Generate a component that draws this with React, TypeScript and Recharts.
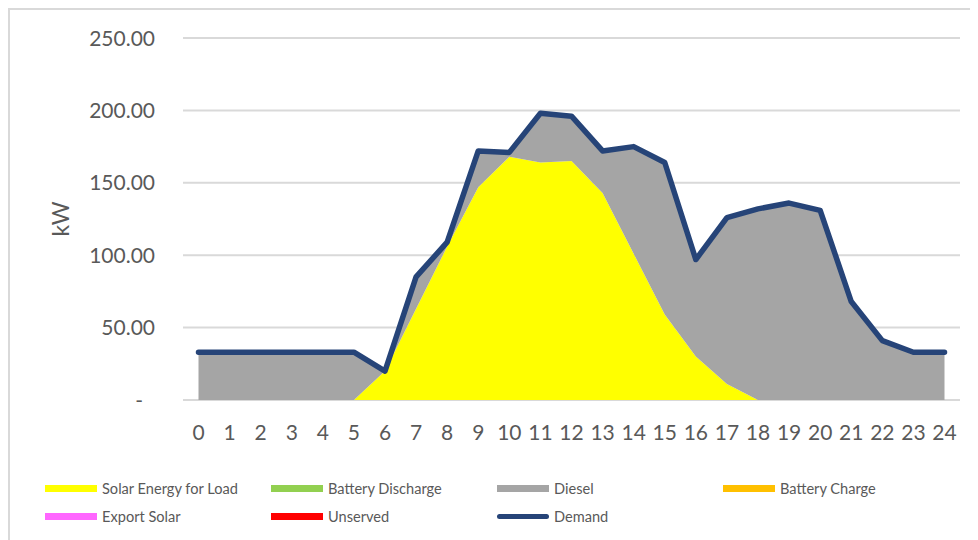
import React from "react";
import {
  ComposedChart,
  Area,
  Line,
  XAxis,
  YAxis,
  CartesianGrid,
  Legend,
} from "recharts";

const hours = [0, 1, 2, 3, 4, 5, 6, 7, 8, 9, 10, 11, 12, 13, 14, 15, 16, 17, 18, 19, 20, 21, 22, 23, 24];
const solarForLoad = [0, 0, 0, 0, 0, 0, 20, 63, 106, 147, 168, 164, 165, 143, 101, 59, 30, 11, 0, 0, 0, 0, 0, 0, 0];
const batteryDischarge = [0, 0, 0, 0, 0, 0, 0, 0, 0, 0, 0, 0, 0, 0, 0, 0, 0, 0, 0, 0, 0, 0, 0, 0, 0];
const diesel = [33, 33, 33, 33, 33, 33, 0, 22, 3, 25, 3, 34, 31, 29, 73, 105, 66, 115, 132, 136, 131, 68, 41, 33, 33];
const batteryCharge = [0, 0, 0, 0, 0, 0, 0, 0, 0, 0, 0, 0, 0, 0, 0, 0, 0, 0, 0, 0, 0, 0, 0, 0, 0];
const exportSolar = [0, 0, 0, 0, 0, 0, 0, 0, 0, 0, 0, 0, 0, 0, 0, 0, 0, 0, 0, 0, 0, 0, 0, 0, 0];
const unserved = [0, 0, 0, 0, 0, 0, 0, 0, 0, 0, 0, 0, 0, 0, 0, 0, 0, 0, 0, 0, 0, 0, 0, 0, 0];
const demand = [33, 33, 33, 33, 33, 33, 20, 85, 109, 172, 171, 198, 196, 172, 175, 164, 97, 126, 132, 136, 131, 68, 41, 33, 33];
const yTicks = [0, 50, 100, 150, 200, 250];

const legendItems = [
  { name: "Solar Energy for Load", color: "#FFFF00", line: false },
  { name: "Battery Discharge", color: "#92D050", line: false },
  { name: "Diesel", color: "#A5A5A5", line: false },
  { name: "Battery Charge", color: "#FFC000", line: false },
  { name: "Export Solar", color: "#FF66FF", line: false },
  { name: "Unserved", color: "#FF0000", line: false },
  { name: "Demand", color: "#264478", line: true },
];

const data = hours.map((h, i) => ({
  hour: h,
  solar: solarForLoad[i],
  discharge: batteryDischarge[i],
  diesel: diesel[i],
  charge: batteryCharge[i],
  exportSolar: exportSolar[i],
  unserved: unserved[i],
  demand: demand[i],
}));

const font = "Lato, 'Open Sans', sans-serif";
const textColor = "#595959";

const YTick = (props: any) => {
  const { x, y, payload } = props;
  const v = payload.value;
  return (
    <text
      x={v === 0 ? x - 12 : x}
      y={y}
      dy="0.36em"
      textAnchor="end"
      fill={textColor}
      fontSize={21}
      fontFamily={font}
    >
      {v === 0 ? "-" : v.toFixed(2)}
    </text>
  );
};

const renderLegend = () => (
  <div
    style={{
      height: 72,
      paddingTop: 16,
      paddingLeft: 35,
      boxSizing: "border-box",
      display: "flex",
      flexWrap: "wrap",
      fontFamily: font,
      fontSize: 14.6,
      color: textColor,
    }}
  >
    {legendItems.map((item) => (
      <div
        key={item.name}
        style={{ width: 226, height: 28, display: "flex", alignItems: "center" }}
      >
        <span
          style={{
            display: "inline-block",
            width: 52,
            height: item.line ? 5 : 7,
            borderRadius: item.line ? 3 : 0,
            background: item.color,
            marginRight: 5,
          }}
        />
        <span>{item.name}</span>
      </div>
    ))}
  </div>
);

export default function App() {
  return (
    <div
      style={{
        width: 970,
        height: 532,
        borderTop: "2px solid #D9D9D9",
        borderLeft: "2px solid #D9D9D9",
        boxSizing: "border-box",
        background: "#fff",
      }}
    >
      <ComposedChart
        width={968}
        height={530}
        data={data}
        margin={{ top: 28, right: 18, left: 0, bottom: 10 }}
      >
        <CartesianGrid vertical={false} stroke="#D9D9D9" strokeWidth={2} />
        <XAxis
          dataKey="hour"
          padding={{ left: 15.5, right: 15.5 }}
          axisLine={false}
          tickLine={false}
          tickSize={0}
          tickMargin={25}
          height={58}
          interval={0}
          tick={{ fill: textColor, fontSize: 21, fontFamily: font }}
        />
        <YAxis
          width={173}
          domain={[0, 250]}
          ticks={yTicks}
          axisLine={false}
          tickLine={false}
          tickSize={0}
          tickMargin={28}
          tick={<YTick />}
          label={{
            content: () => (
              <text
                x={50}
                y={209}
                transform="rotate(-90 50 209)"
                textAnchor="middle"
                dominantBaseline="central"
                fill={textColor}
                fontSize={23}
                fontFamily={font}
              >
                kW
              </text>
            ),
          }}
        />
        <Legend verticalAlign="bottom" content={renderLegend} />
        <Area
          type="linear"
          dataKey="solar"
          name="Solar Energy for Load"
          stackId="a"
          fill="#FFFF00"
          fillOpacity={1}
          stroke="none"
          isAnimationActive={false}
        />
        <Area
          type="linear"
          dataKey="discharge"
          name="Battery Discharge"
          stackId="a"
          fill="#92D050"
          fillOpacity={1}
          stroke="none"
          isAnimationActive={false}
        />
        <Area
          type="linear"
          dataKey="diesel"
          name="Diesel"
          stackId="a"
          fill="#A5A5A5"
          fillOpacity={1}
          stroke="none"
          isAnimationActive={false}
        />
        <Area
          type="linear"
          dataKey="charge"
          name="Battery Charge"
          stackId="b"
          fill="#FFC000"
          fillOpacity={1}
          stroke="none"
          isAnimationActive={false}
        />
        <Area
          type="linear"
          dataKey="exportSolar"
          name="Export Solar"
          stackId="b"
          fill="#FF66FF"
          fillOpacity={1}
          stroke="none"
          isAnimationActive={false}
        />
        <Area
          type="linear"
          dataKey="unserved"
          name="Unserved"
          stackId="b"
          fill="#FF0000"
          fillOpacity={1}
          stroke="none"
          isAnimationActive={false}
        />
        <Line
          type="linear"
          dataKey="demand"
          name="Demand"
          stroke="#264478"
          strokeWidth={5.5}
          strokeLinecap="round"
          strokeLinejoin="round"
          dot={false}
          activeDot={false}
          isAnimationActive={false}
        />
      </ComposedChart>
    </div>
  );
}
